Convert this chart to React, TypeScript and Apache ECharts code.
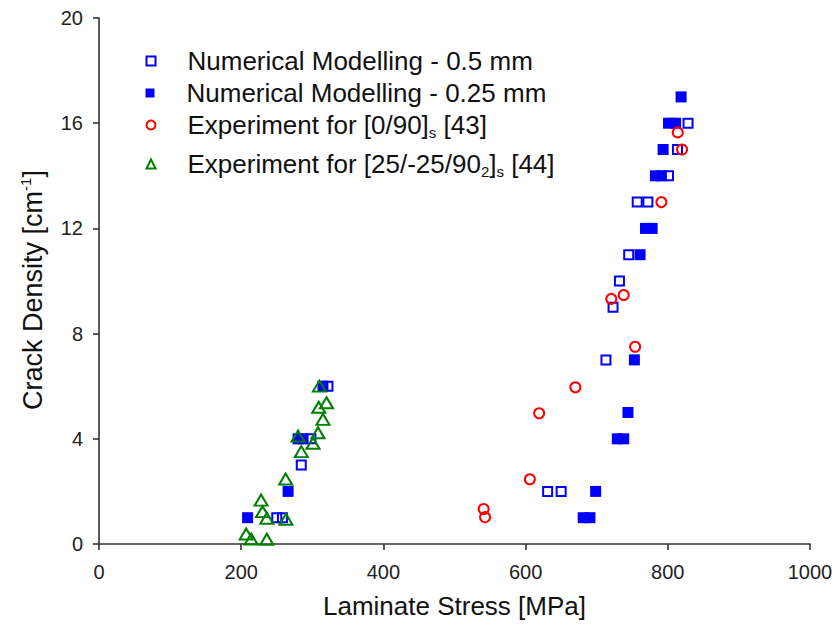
import React, { useEffect, useRef } from "react";
import * as echarts from "echarts";

// ---- data (Laminate Stress [MPa], Crack Density [cm^-1]) ----
const seriesNames = [
  "Numerical Modelling - 0.5 mm",
  "Numerical Modelling - 0.25 mm",
  "Experiment for [0/90]s [43]",
  "Experiment for [25/-25/902]s [44]",
];
const legendLabels = [
  "Numerical Modelling - 0.5 mm",
  "Numerical Modelling - 0.25 mm",
  "Experiment for [0/90]{sub|s} [43]",
  "Experiment for [25/-25/90{sub|2}]{sub|s} [44]",
];

const open05X = [250, 258, 284.5, 298, 322, 631, 650, 713, 723, 732, 745, 757, 772, 801, 813.6, 828.5];
const open05Y = [1, 1, 3, 4, 6, 2, 2, 7, 9, 10, 11, 13, 13, 14, 15, 16];

const fill025X = [209, 266, 280, 287, 315, 681, 690.5, 698.5, 729, 738, 744, 753, 761, 768.6, 778, 782.6, 791, 793.4, 801, 811, 818.7];
const fill025Y = [1, 2, 4, 4, 6, 1, 1, 2, 4, 4, 5, 7, 11, 12, 12, 14, 14, 15, 16, 16, 17];

const exp090X = [541, 543, 606, 619, 670, 754, 720.5, 738, 791, 820, 814];
const exp090Y = [1.33, 1.02, 2.46, 4.97, 5.96, 7.5, 9.32, 9.47, 13, 15.0, 15.65];

const exp25X = [207, 214, 236, 228, 230, 236, 263, 262.5, 284.5, 280, 301, 308, 315, 309, 320, 310];
const exp25Y = [0.38, 0.19, 0.18, 1.67, 1.23, 0.98, 0.94, 2.47, 3.51, 4.1, 3.83, 4.23, 4.74, 5.2, 5.37, 6.0];

const xTicks = [0, 200, 400, 600, 800, 1000];
const yTicks = [0, 4, 8, 12, 16, 20];

const zip = (xs: number[], ys: number[]) => xs.map((x, i) => [x, ys[i]]);

const FONT = "'Liberation Sans', Arial, sans-serif";
const BLUE = "#0000ff";
const RED = "#ff0000";
const GREEN = "#008000";
const AXIS = "#333333";

export default function App() {
  const ref = useRef<HTMLDivElement>(null);

  useEffect(() => {
    if (!ref.current) return;
    const chart = echarts.init(ref.current, undefined, { renderer: "svg" });

    const legendTops = [46, 78, 110, 149];
    const legends = seriesNames.map((n, i) => ({
      data: [n],
      left: 145.5,
      top: legendTops[i],
      padding: 0,
      itemWidth: 9,
      itemHeight: 9,
      selectedMode: false,
      formatter: () => legendLabels[i],
      textStyle: {
        fontFamily: FONT,
        fontSize: 26,
        color: "#111",
        lineHeight: 30,
        padding: [0, 0, 0, 27],
        rich: {
          sub: { fontFamily: FONT, fontSize: 15, color: "#111", lineHeight: 2, verticalAlign: "bottom" },
        },
      },
    }));

    chart.setOption({
      animation: false,
      backgroundColor: "#ffffff",
      legend: legends,
      grid: { left: 99, right: 28, top: 18, bottom: 89 },
      xAxis: {
        type: "value",
        min: xTicks[0],
        max: xTicks[xTicks.length - 1],
        interval: 200,
        name: "Laminate Stress [MPa]",
        nameLocation: "middle",
        nameGap: 49,
        nameTextStyle: { fontFamily: FONT, fontSize: 26, color: "#111" },
        axisLine: { show: true, onZero: false, lineStyle: { color: AXIS, width: 1.6 } },
        axisTick: { show: true, length: 6, lineStyle: { color: AXIS, width: 1.6 } },
        axisLabel: { fontFamily: FONT, fontSize: 20, color: "#222", margin: 18, formatter: (v: number) => String(v) },
        splitLine: { show: false },
      },
      yAxis: {
        type: "value",
        min: yTicks[0],
        max: yTicks[yTicks.length - 1],
        interval: 4,
        name: "Crack Density [cm{sup|-1}]",
        nameLocation: "middle",
        nameGap: 51,
        nameTextStyle: {
          fontFamily: FONT,
          fontSize: 27,
          color: "#111",
          lineHeight: 30,
          padding: [0, 18, 0, 0],
          rich: {
            sup: { fontFamily: FONT, fontSize: 15, color: "#111", lineHeight: 8, verticalAlign: "top" },
          },
        },
        axisLine: { show: true, onZero: false, lineStyle: { color: AXIS, width: 1.6 } },
        axisTick: { show: true, length: 6, lineStyle: { color: AXIS, width: 1.6 } },
        axisLabel: { fontFamily: FONT, fontSize: 20, color: "#222", margin: 16 },
        splitLine: { show: false },
      },
      series: [
        {
          name: seriesNames[1],
          type: "scatter",
          data: zip(fill025X, fill025Y),
          symbol: "rect",
          symbolSize: 11,
          itemStyle: { color: BLUE, opacity: 1 },
          emphasis: { disabled: true },
        },
        {
          name: seriesNames[0],
          type: "scatter",
          data: zip(open05X, open05Y),
          symbol: "rect",
          symbolSize: 9,
          itemStyle: { color: "rgba(255,255,255,0)", borderColor: BLUE, borderWidth: 2, opacity: 1 },
          emphasis: { disabled: true },
        },
        {
          name: seriesNames[2],
          type: "scatter",
          data: zip(exp090X, exp090Y),
          symbol: "circle",
          symbolSize: 10,
          itemStyle: { color: "rgba(255,255,255,0)", borderColor: RED, borderWidth: 2, opacity: 1 },
          emphasis: { disabled: true },
        },
        {
          name: seriesNames[3],
          type: "scatter",
          data: zip(exp25X, exp25Y),
          symbol: "triangle",
          symbolSize: [13, 11],
          itemStyle: { color: "rgba(255,255,255,0)", borderColor: GREEN, borderWidth: 2, opacity: 1 },
          emphasis: { disabled: true },
        },
      ],
    });

    return () => chart.dispose();
  }, []);

  return (
    <div
      ref={ref}
      style={{ position: "absolute", left: 0, top: 0, width: 838, height: 633 }}
    />
  );
}
